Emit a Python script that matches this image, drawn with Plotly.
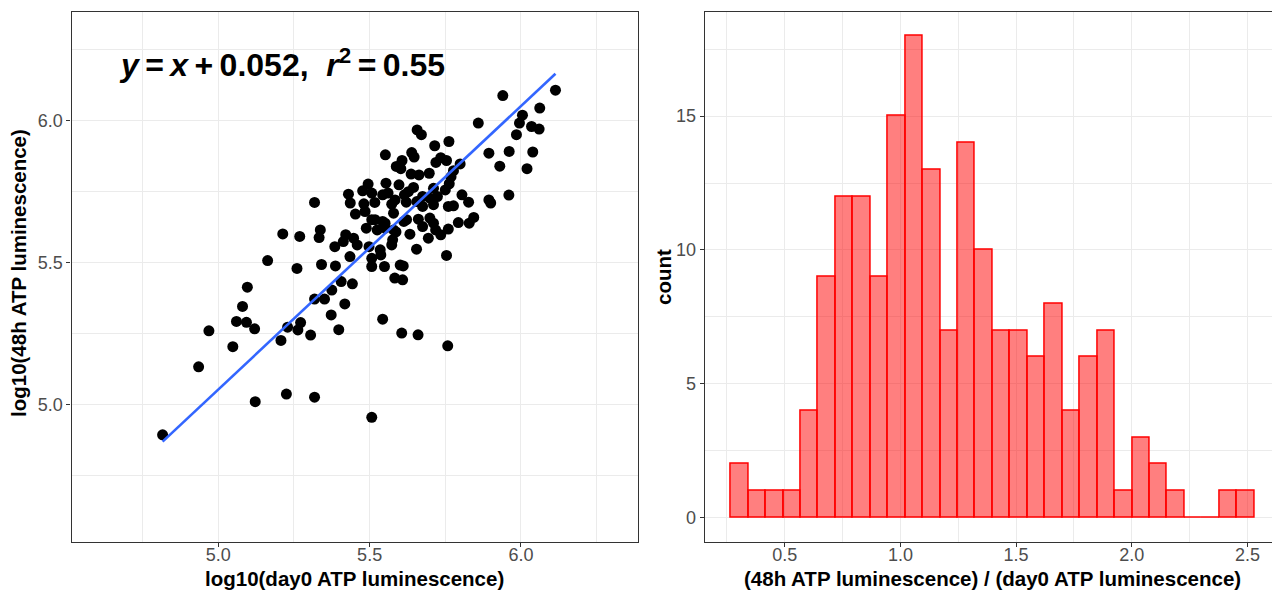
import numpy as np
import plotly.graph_objects as go

# log10 ATP luminescence per sample: day 0 vs 48 h
day0_log10 = [
    5.940, 6.114, 6.005, 6.062, 5.995, 6.035, 6.060, 5.859, 5.985, 5.657,
    5.671, 5.762, 5.715, 5.894, 5.961, 6.039, 5.552, 5.639, 5.647, 5.607,
    5.735, 5.754, 5.719, 5.799, 5.588, 5.603, 5.930, 6.020, 5.777, 5.637,
    5.663, 5.697, 5.769, 5.554, 5.495, 5.597, 5.645, 5.763, 5.711, 5.750,
    5.477, 5.507, 5.543, 5.561, 5.430, 5.615, 5.675, 5.724, 5.805, 5.960,
    5.894, 5.900, 5.318, 5.436, 5.481, 5.517, 5.573, 5.621, 5.675, 5.711,
    5.760, 5.777, 5.827, 5.453, 5.579, 5.507, 5.543, 5.613, 5.661, 5.699,
    5.711, 5.844, 5.829, 5.793, 5.489, 5.525, 5.579, 5.633, 5.675, 5.694,
    5.718, 5.735, 5.760, 5.213, 5.269, 5.337, 5.333, 5.421, 5.447, 5.385,
    5.459, 5.498, 5.535, 5.573, 5.655, 5.754, 5.435, 5.507, 5.537, 5.163,
    5.260, 5.341, 5.387, 5.507, 5.549, 5.601, 5.611, 5.583, 5.609, 5.406,
    5.096, 5.443, 5.080, 5.375, 5.318, 5.351, 5.418, 5.060, 5.093, 5.120,
    4.969, 5.229, 5.272, 5.263, 5.373, 5.398, 5.305, 5.207, 5.543, 5.606,
    5.660, 5.758, 5.048, 4.935, 5.122, 5.225, 5.318, 5.507, 4.816, 5.518,
    5.551, 5.551, 5.587, 5.622, 5.413, 5.576, 5.584, 5.628, 5.485, 5.699,
    5.656,
]
h48_log10 = [
    6.089, 6.108, 6.020, 6.045, 5.992, 5.980, 5.971, 5.992, 5.951, 5.968,
    5.951, 5.927, 5.912, 5.886, 5.892, 5.890, 5.880, 5.888, 5.872, 5.860,
    5.870, 5.860, 5.853, 5.848, 5.839, 5.831, 5.840, 5.831, 5.824, 5.812,
    5.809, 5.815, 5.803, 5.780, 5.777, 5.774, 5.765, 5.778, 5.762, 5.756,
    5.753, 5.745, 5.739, 5.745, 5.741, 5.739, 5.733, 5.733, 5.739, 5.738,
    5.721, 5.710, 5.712, 5.710, 5.707, 5.712, 5.706, 5.713, 5.698, 5.704,
    5.698, 5.700, 5.713, 5.671, 5.674, 5.651, 5.645, 5.645, 5.653, 5.657,
    5.639, 5.659, 5.639, 5.641, 5.621, 5.615, 5.615, 5.600, 5.627, 5.586,
    5.615, 5.598, 5.618, 5.601, 5.592, 5.615, 5.588, 5.598, 5.586, 5.556,
    5.562, 5.556, 5.545, 5.562, 5.547, 5.525, 5.521, 5.515, 5.527, 5.507,
    5.479, 5.493, 5.488, 5.486, 5.486, 5.491, 5.488, 5.445, 5.439, 5.433,
    5.413, 5.425, 5.345, 5.403, 5.371, 5.371, 5.354, 5.292, 5.289, 5.266,
    5.259, 5.272, 5.288, 5.262, 5.315, 5.263, 5.244, 5.225, 5.300, 5.251,
    5.245, 5.206, 5.203, 5.132, 5.009, 5.036, 5.025, 4.954, 4.892, 5.651,
    5.639, 5.621, 5.608, 5.651, 5.574, 5.580, 5.721, 5.750, 5.680, 5.727,
    5.715,
]

# Linear fit reported on the panel
fit_slope = 1.0
fit_intercept = 0.052
fit_r2 = 0.55

# Histogram of the 48h / day0 ratio (30 bins)
ratio_counts = [2, 1, 1, 1, 4, 9, 12, 12, 9, 15, 18, 13, 7, 14, 10,
                7, 7, 6, 8, 4, 6, 7, 1, 3, 2, 1, 0, 0, 1, 1]
ratio_first_center = 0.305
ratio_last_center = 2.492

bin_centers = np.linspace(ratio_first_center, ratio_last_center, len(ratio_counts))
bin_width = (ratio_last_center - ratio_first_center) / (len(ratio_counts) - 1)

FONT = "Liberation Sans, Arial, sans-serif"
GRID = "#EBEBEB"
FRAME = "#333333"
TICKTXT = "#4D4D4D"

W, H = 1272, 592

fig = go.Figure()

fig.add_trace(go.Scatter(
    x=day0_log10, y=h48_log10, mode="markers",
    marker=dict(color="black", size=11, line=dict(width=0)),
    xaxis="x", yaxis="y", hoverinfo="skip",
))

x_fit = np.array([min(day0_log10), max(day0_log10)])
fig.add_trace(go.Scatter(
    x=x_fit, y=fit_slope * x_fit + fit_intercept, mode="lines",
    line=dict(color="#3366FF", width=2.6),
    xaxis="x", yaxis="y", hoverinfo="skip",
))

fig.add_trace(go.Bar(
    x=bin_centers, y=ratio_counts, width=bin_width,
    marker=dict(color="rgba(255,0,0,0.5)", line=dict(color="red", width=1.5)),
    xaxis="x2", yaxis="y2", hoverinfo="skip",
))

ydom = [1 - 541.7 / H, 1 - 11.7 / H]

def axis_style(**kw):
    base = dict(
        showgrid=True, gridcolor=GRID, gridwidth=1.1, zeroline=False,
        showline=True, linecolor=FRAME, linewidth=1.1,
        ticks="outside", ticklen=4, tickwidth=1.1, tickcolor=FRAME,
        tickfont=dict(family=FONT, size=18, color=TICKTXT),
    )
    base.update(kw)
    return base

fig.update_layout(
    width=W, height=H,
    margin=dict(l=0, r=0, t=0, b=0),
    paper_bgcolor="white", plot_bgcolor="white",
    showlegend=False, bargap=0,
    xaxis=axis_style(
        domain=[71.5 / W, 637.5 / W], range=[4.515, 6.385], anchor="y",
        tickvals=[5.0, 5.5, 6.0], ticktext=["5.0", "5.5", "6.0"], mirror=True,
        ticklabelstandoff=-7,
        minor=dict(tickvals=[4.75, 5.25, 5.75, 6.25], showgrid=True,
                   gridcolor=GRID, gridwidth=0.55, ticks=""),
    ),
    yaxis=axis_style(
        domain=ydom, range=[4.515, 6.385], anchor="x",
        tickvals=[5.0, 5.5, 6.0], ticktext=["5.0", "5.5", "6.0"], mirror=True,
        minor=dict(tickvals=[4.75, 5.25, 5.75, 6.25], showgrid=True,
                   gridcolor=GRID, gridwidth=0.55, ticks=""),
    ),
    xaxis2=axis_style(
        domain=[704.7 / W, 1.0], range=[0.154, 2.606], anchor="y2",
        tickvals=[0.5, 1.0, 1.5, 2.0, 2.5],
        ticktext=["0.5", "1.0", "1.5", "2.0", "2.5"], mirror=True,
        ticklabelstandoff=-7,
        minor=dict(tickvals=[0.25, 0.75, 1.25, 1.75, 2.25], showgrid=True,
                   gridcolor=GRID, gridwidth=0.55, ticks=""),
    ),
    yaxis2=axis_style(
        domain=ydom, range=[-0.9, 18.9], anchor="x2",
        tickvals=[0, 5, 10, 15], ticktext=["0", "5", "10", "15"],
        minor=dict(tickvals=[2.5, 7.5, 12.5, 17.5], showgrid=True,
                   gridcolor=GRID, gridwidth=0.55, ticks=""),
    ),
)

title_font = dict(family=FONT, size=20.5, color="black", weight="bold")
titles = [
    ("log10(day0 ATP luminescence)", 354.5, 578, 0),
    ("(48h ATP luminescence) / (day0 ATP luminescence)", 992.5, 578, 0),
    ("log10(48h ATP luminescence)", 18, 273, -90),
    ("count", 663, 277, -90),
]
for text, px, py, ang in titles:
    fig.add_annotation(
        text=text, x=px / W, y=1 - py / H, xref="paper", yref="paper",
        showarrow=False, textangle=ang, font=title_font,
        xanchor="center", yanchor="middle",
    )

# fit equation, with thin spaces around the operators
ts = "\u2009"
fig.add_annotation(
    text=(f"<i>y</i>{ts}={ts}<i>x</i>{ts}+{ts}{fit_intercept:.3f},  "
          f"<i>r</i><sup>2</sup>{ts}={ts}{fit_r2:.2f}"),
    x=117 / W, y=1 - 63 / H, xref="paper", yref="paper",
    showarrow=False, xanchor="left", yanchor="middle",
    font=dict(family=FONT, size=32, color="black", weight="bold"),
)

fig.write_html("out.html")
